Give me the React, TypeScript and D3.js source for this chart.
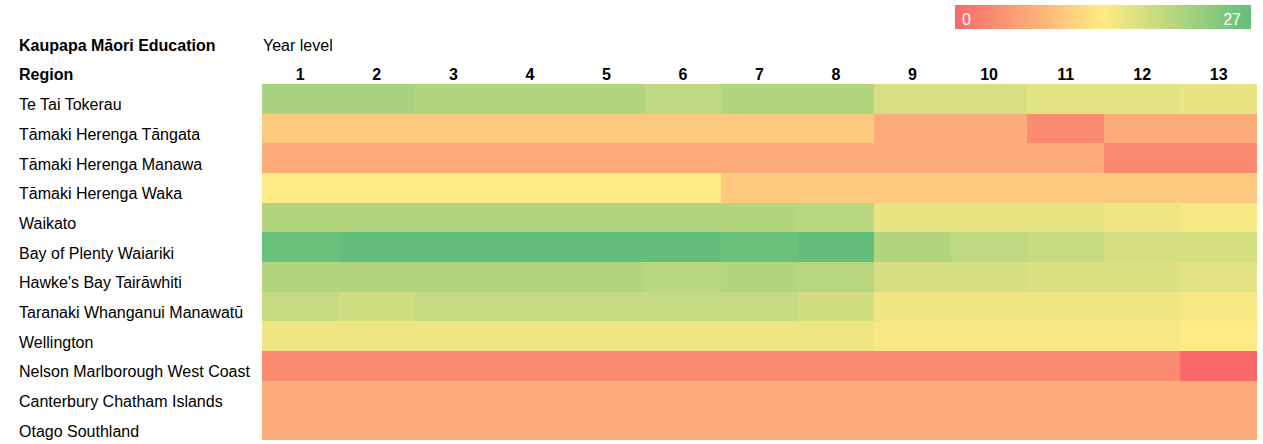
import React from "react";
import * as d3 from "d3";

const regions = [
  "Te Tai Tokerau",
  "Tāmaki Herenga Tāngata",
  "Tāmaki Herenga Manawa",
  "Tāmaki Herenga Waka",
  "Waikato",
  "Bay of Plenty Waiariki",
  "Hawke's Bay Tairāwhiti",
  "Taranaki Whanganui Manawatū",
  "Wellington",
  "Nelson Marlborough West Coast",
  "Canterbury Chatham Islands",
  "Otago Southland",
];

const yearLevels = ["1", "2", "3", "4", "5", "6", "7", "8", "9", "10", "11", "12", "13"];

const teTaiTokerau = [21, 21, 20, 20, 20, 19, 20, 20, 17, 17, 16, 16, 15.5];
const tamakiTangata = [10, 10, 10, 10, 10, 10, 10, 10, 7, 7, 3.5, 7, 7];
const tamakiManawa = [7, 7, 7, 7, 7, 7, 7, 7, 7, 7, 7, 3.5, 3.5];
const tamakiWaka = [13.5, 13.5, 13.5, 13.5, 13.5, 13.5, 10, 10, 10, 10, 10, 10, 10];
const waikato = [20, 20, 20, 20, 20, 20, 20, 19.5, 15.5, 15.5, 15.5, 15, 14];
const bayOfPlenty = [26.3, 27, 27, 27, 27, 27, 26.3, 27, 20.2, 19, 18.5, 17.2, 17.2];
const hawkesBay = [20, 20, 20, 20, 20, 19.4, 20, 19.5, 17.2, 17.2, 16.6, 16.6, 16];
const taranaki = [18.5, 17.6, 18.5, 18.5, 18.5, 18.5, 18.5, 17.6, 15, 15, 15, 15, 14.2];
const wellington = [15, 15, 15, 15, 15, 15, 15, 15, 14.3, 14.3, 14.3, 14.3, 13.5];
const nelson = [3.5, 3.5, 3.5, 3.5, 3.5, 3.5, 3.5, 3.5, 3.5, 3.5, 3.5, 3.5, 0];
const canterbury = [7, 7, 7, 7, 7, 7, 7, 7, 7, 7, 7, 7, 7];
const otago = [7, 7, 7, 7, 7, 7, 7, 7, 7, 7, 7, 7, 7];

const values = [
  teTaiTokerau,
  tamakiTangata,
  tamakiManawa,
  tamakiWaka,
  waikato,
  bayOfPlenty,
  hawkesBay,
  taranaki,
  wellington,
  nelson,
  canterbury,
  otago,
];

const legendMin = 0;
const legendMax = 27;

const FONT = "'Liberation Sans', Arial, sans-serif";

export default function App() {
  const width = 1263;
  const height = 444;
  const gridLeft = 262;
  const gridRight = 1257;
  const gridTop = 84;
  const rowH = 29.67;

  const x = d3.scaleBand<string>().domain(yearLevels).range([gridLeft, gridRight]).padding(0);
  const y = d3
    .scaleBand<string>()
    .domain(regions)
    .range([gridTop, gridTop + rowH * regions.length])
    .padding(0);

  const color = d3
    .scaleLinear<string>()
    .domain([legendMin, (legendMin + legendMax) / 2, legendMax])
    .range(["#F8696B", "#FFEB84", "#63BE7B"])
    .interpolate(d3.interpolateRgb);

  const lgX0 = 955;
  const lgX1 = 1251;
  const lgStops = d3.range(0, 1.0001, 0.05);

  return (
    <svg
      width={width}
      height={height}
      style={{ position: "absolute", left: 0, top: 0, fontFamily: FONT }}
    >
      <rect width={width} height={height} fill="#fff" />
      <defs>
        <linearGradient id="lg" x1="0" x2="1" y1="0" y2="0">
          {lgStops.map((s) => (
            <stop key={s} offset={s} stopColor={color(legendMin + s * (legendMax - legendMin))} />
          ))}
        </linearGradient>
      </defs>
      <rect x={lgX0} y={5} width={lgX1 - lgX0} height={24} fill="url(#lg)" />
      <text x={lgX0 + 7} y={25} fontSize={16} fill="#fff">
        {legendMin}
      </text>
      <text x={lgX1 - 10} y={25} fontSize={16} fill="#fff" textAnchor="end">
        {legendMax}
      </text>

      <text x={19} y={51} fontSize={16} fontWeight="bold" fill="#000">
        Kaupapa Māori Education
      </text>
      <text x={263} y={51} fontSize={16} fill="#000">
        Year level
      </text>
      <text x={19} y={80} fontSize={16} fontWeight="bold" fill="#000">
        Region
      </text>
      {yearLevels.map((yl) => (
        <text
          key={yl}
          x={(x(yl) as number) + x.bandwidth() / 2}
          y={80}
          fontSize={16}
          fontWeight="bold"
          textAnchor="middle"
          fill="#000"
        >
          {yl}
        </text>
      ))}

      <g shapeRendering="crispEdges">
        {regions.map((r, i) =>
          values[i].map((v, j) => {
            const x0 = Math.round(x(yearLevels[j]) as number);
            const x1 = Math.round((x(yearLevels[j]) as number) + x.bandwidth());
            const y0 = Math.round(y(r) as number);
            const y1 = Math.round((y(r) as number) + y.bandwidth());
            return (
              <rect key={r + j} x={x0} y={y0} width={x1 - x0} height={y1 - y0} fill={color(v)} />
            );
          })
        )}
      </g>
      {regions.map((r) => (
        <text key={r} x={19} y={(y(r) as number) + y.bandwidth() - 3.5} fontSize={16} fill="#000">
          {r}
        </text>
      ))}
    </svg>
  );
}
